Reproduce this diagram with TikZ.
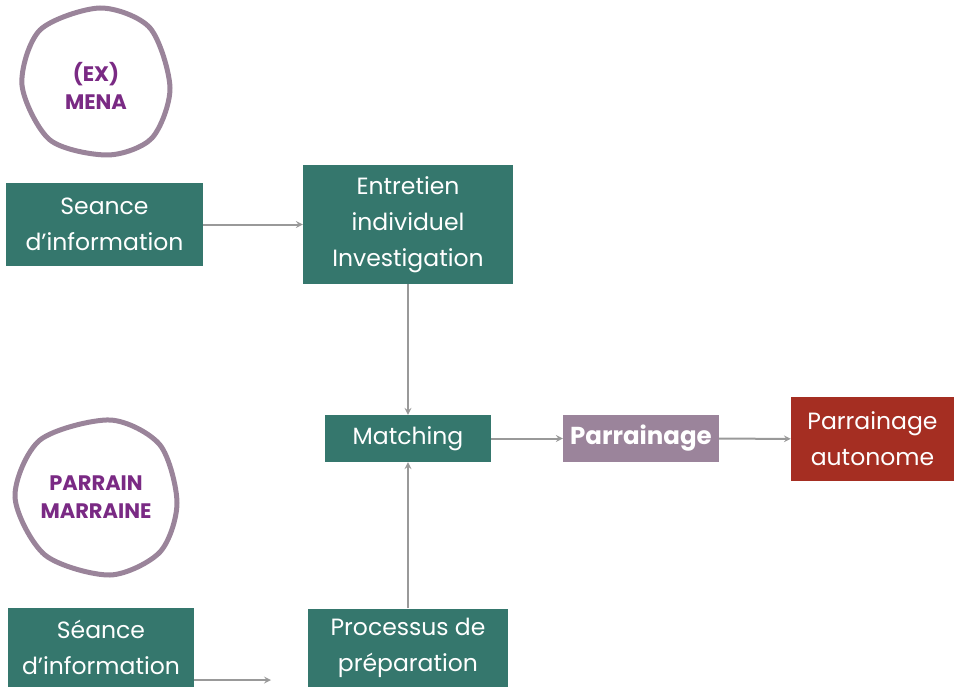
\documentclass[tikz,border=0pt]{standalone}
\usepackage{fontspec}
\setmainfont{Poppins}
\definecolor{boxgreen}{HTML}{35776D}
\definecolor{boxlilac}{HTML}{9B849B}
\definecolor{boxred}{HTML}{A52E22}
\definecolor{ringlilac}{HTML}{9A849A}
\definecolor{ringtext}{HTML}{7A2A84}
\definecolor{arrowgrey}{HTML}{999999}
\begin{document}
\begin{tikzpicture}[x=1pt,y=-1pt,
  box/.style={fill=boxgreen,text=white,font=\fontsize{23.5}{36}\selectfont,align=center,inner sep=0pt},
  link/.style={draw=arrowgrey,line width=2pt,-stealth},
  ring/.style={draw=ringlilac,line width=5pt},
  ringlabel/.style={text=ringtext,font=\bfseries\fontsize{21}{28}\selectfont,align=center}]
\useasboundingbox (0,0) rectangle (958,687);
\draw[ring] plot[smooth cycle] coordinates {(170,88) (152,138) (108,155) (50,140) (22,85) (40,30) (100,8) (150,28)};
\node[ringlabel](mena) at (96,86){(EX)\\MENA};
\draw[ring] plot[smooth cycle] coordinates {(177,503) (160,552) (110,575) (45,555) (15,497) (40,440) (110,420) (160,445)};
\node[ringlabel](parrain) at (96,497){PARRAIN\\MARRAINE};
\node[box,minimum width=197,minimum height=83](seanceA) at (104.5,224.5){Seance\\d’information};
\node[box,minimum width=210,minimum height=119](entretien) at (408,224.5){Entretien\\individuel\\Investigation};
\node[box,minimum width=166,minimum height=47](matching) at (408,438.5){Matching};
\node[box,fill=boxlilac,font=\bfseries\fontsize{24.5}{36}\selectfont,minimum width=156,minimum height=47](parrainage) at (641,438.5){Parrainage};
\node[box,fill=boxred,minimum width=163,minimum height=84](autonome) at (872.5,439){Parrainage\\autonome};
\node[box,minimum width=186,minimum height=79](seanceB) at (101,647.5){Séance\\d’information};
\node[box,minimum width=200,minimum height=79](processus) at (408,648){Processus de\\préparation};
\coordinate (loose) at (271,680);
\draw[link](seanceA)--(entretien);
\draw[link](entretien)--(matching);
\draw[link](processus)--(matching);
\draw[link](matching)--(parrainage);
\draw[link](parrainage)--(autonome);
\draw[link](seanceB.east |- loose)--(loose);
\end{tikzpicture}
\end{document}
